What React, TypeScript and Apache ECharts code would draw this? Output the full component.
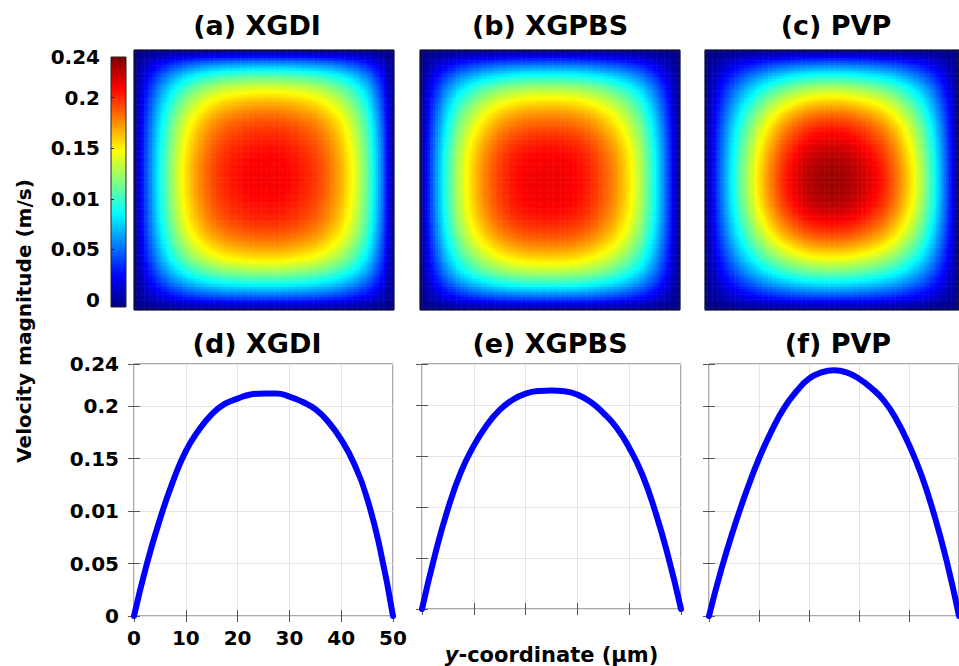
import React, { useEffect, useRef } from 'react';
import * as echarts from 'echarts';

// ---------- data ----------
const panelTitles = ['(a) XGDI', '(b) XGPBS', '(c) PVP', '(d) XGDI', '(e) XGPBS', '(f) PVP'];
const xTickLabels = ['0', '10', '20', '30', '40', '50'];
const yTickValues = [0, 0.05, 0.1, 0.15, 0.2, 0.24];
const yTickLabels = ['0', '0.05', '0.01', '0.15', '0.2', '0.24'];
const yAxisTitle = 'Velocity magnitude (m/s)';
const xAxisTitle = '{it|y}-coordinate (µm)';

// y-coordinate (µm) at which the profiles are read
const yCoord = [0, 2.5, 5, 7.5, 10, 12.5, 15, 17.5, 20, 22.5, 25, 27.5, 30, 32.5, 35, 37.5, 40, 42.5, 45, 47.5, 50];
// velocity magnitude (m/s) along the profile
const xgdiV = [0, 0.05, 0.092, 0.128, 0.157, 0.177, 0.192, 0.202, 0.207, 0.211, 0.212, 0.212, 0.209, 0.204, 0.197, 0.185, 0.168, 0.145, 0.112, 0.064, 0];
const xgpbsV = [0, 0.053, 0.098, 0.134, 0.16, 0.18, 0.195, 0.205, 0.211, 0.2135, 0.214, 0.2133, 0.21, 0.203, 0.192, 0.178, 0.158, 0.132, 0.096, 0.052, 0];
const pvpV = [0, 0.045, 0.084, 0.119, 0.15, 0.176, 0.198, 0.214, 0.226, 0.232, 0.234, 0.232, 0.226, 0.217, 0.205, 0.187, 0.163, 0.134, 0.097, 0.053, 0];

const profiles = [xgdiV, xgpbsV, pvpV];

const jetColors = ['#000080', '#0000ff', '#0080ff', '#00ffff', '#80ff80', '#ffff00', '#ff8000', '#ff0000', '#800000'];

// ---------- helpers ----------
const N = 100; // heatmap cells per side
const FONT = 'DejaVu Sans';

function sampleProfile(ys: number[], vs: number[], x: number) {
  for (let i = 0; i < ys.length - 1; i++) {
    if (x >= ys[i] && x <= ys[i + 1]) {
      const t = (x - ys[i]) / (ys[i + 1] - ys[i]);
      return vs[i] + t * (vs[i + 1] - vs[i]);
    }
  }
  return 0;
}

// cross-section table for the heatmap, built from the profile
function buildField(vs: number[]) {
  const prof: number[] = [];
  for (let k = 0; k < N; k++) prof.push(sampleProfile(yCoord, vs, ((k + 0.5) * 50) / N));
  const pmax = Math.max(...vs);
  const data: number[][] = [];
  for (let i = 0; i < N; i++) for (let j = 0; j < N; j++) data.push([i, j, (prof[i] * prof[j]) / pmax]);
  return data;
}

const yLabelFmt = (v: number) => {
  const i = yTickValues.findIndex((t) => Math.abs(t - v) < 1e-6);
  return i >= 0 ? yTickLabels[i] : '';
};
const xLabelFmt = (v: number) => xTickLabels[Math.round(v / 10)] ?? '';

export default function App() {
  const ref = useRef<HTMLDivElement>(null);

  useEffect(() => {
    if (!ref.current) return;
    const chart = echarts.init(ref.current, undefined, { renderer: 'svg' });

    const heatRects = [
      { left: 134, top: 50, width: 260, height: 260 },
      { left: 420, top: 50, width: 260, height: 260 },
      { left: 705, top: 50, width: 260, height: 260 },
    ];
    const lineRects = [
      { left: 134, top: 364, width: 259, height: 252 },
      { left: 422, top: 364, width: 259, height: 252 },
      { left: 709, top: 364, width: 259, height: 252 },
    ];
    const titleCenters = [
      [257, 25], [550, 25], [836, 25],
      [257, 343], [550, 343], [838, 343],
    ];

    const cats = Array.from({ length: N }, (_, i) => String(i));

    const grid: any[] = [];
    const xAxis: any[] = [];
    const yAxis: any[] = [];
    const series: any[] = [];

    heatRects.forEach((r, k) => {
      grid.push({ ...r, show: true, borderColor: '#1a1a1a', borderWidth: 1, backgroundColor: 'transparent', z: 10 });
      xAxis.push({ type: 'category', gridIndex: k, data: cats, show: false });
      yAxis.push({ type: 'category', gridIndex: k, data: cats, show: false });
      series.push({
        type: 'heatmap',
        xAxisIndex: k,
        yAxisIndex: k,
        data: buildField(profiles[k]),
        progressive: 0,
        emphasis: { disabled: true },
        silent: true,
      });
    });

    const tickStyle = { show: true, inside: true, length: 6, lineStyle: { color: '#555', width: 1 } };
    const labelStyle = { color: '#000', fontFamily: FONT, fontWeight: 'bold', fontSize: 20 };

    lineRects.forEach((r) => {
      grid.push({ ...r, show: true, borderColor: '#555', borderWidth: 1, backgroundColor: 'transparent' });
    });
    // bottom x axes
    lineRects.forEach((r, k) => {
      const g = 3 + k;
      xAxis.push({
        type: 'value', gridIndex: g, position: 'bottom', min: 0, max: 50, interval: 10,
        axisLine: { show: false }, axisTick: tickStyle,
        axisLabel: { show: k === 0, margin: 12, formatter: xLabelFmt, ...labelStyle },
        splitLine: { show: true, lineStyle: { color: '#e4e4e4', width: 1 } },
        ...(k === 1
          ? {
              name: xAxisTitle, nameLocation: 'middle', nameGap: 35,
              nameTextStyle: {
                color: '#000', fontFamily: FONT, fontWeight: 'bold', fontSize: 21,
                rich: { it: { fontStyle: 'italic', fontWeight: 'bold', fontFamily: FONT, fontSize: 21, color: '#000' } },
              },
            }
          : {}),
      });
    });
    // left y axes
    lineRects.forEach((r, k) => {
      const g = 3 + k;
      yAxis.push({
        type: 'value', gridIndex: g, position: 'left', min: 0, max: 0.24, interval: 0.05,
        axisLine: { show: false }, axisTick: tickStyle,
        axisLabel: { show: k === 0, margin: 15, formatter: yLabelFmt, showMaxLabel: true, showMinLabel: true, ...labelStyle },
        splitLine: { show: true, lineStyle: { color: '#e4e4e4', width: 1 } },
      });
    });
    // top x axes & right y axes (tick marks only)
    lineRects.forEach((r, k) => {
      const g = 3 + k;
      xAxis.push({
        type: 'value', gridIndex: g, position: 'top', min: 0, max: 50, interval: 10,
        axisLine: { show: false }, axisTick: tickStyle, axisLabel: { show: false }, splitLine: { show: false },
      });
      yAxis.push({
        type: 'value', gridIndex: g, position: 'right', min: 0, max: 0.24, interval: 0.05,
        axisLine: { show: false }, axisTick: tickStyle, axisLabel: { show: false }, splitLine: { show: false },
      });
    });
    // line series
    profiles.forEach((vs, k) => {
      series.push({
        type: 'line',
        xAxisIndex: 3 + k,
        yAxisIndex: 3 + k,
        data: yCoord.map((y, i) => [y, vs[i]]),
        smooth: true,
        showSymbol: false,
        symbol: 'none',
        lineStyle: { color: '#0000ff', width: 6, cap: 'round' },
        silent: true,
      });
    });

    // colorbar label axis
    grid.push({ left: 111, top: 57, width: 15, height: 243, show: false });
    xAxis.push({ type: 'value', gridIndex: 6, show: false, min: 0, max: 1 });
    yAxis.push({
      type: 'value', gridIndex: 6, position: 'left', min: 0, max: 0.24, interval: 0.05,
      axisLine: { show: false },
      axisTick: { show: true, inside: true, length: 3, lineStyle: { color: '#222' }, customValues: [0.05, 0.1, 0.15, 0.2] },
      axisLabel: { show: true, margin: 11, formatter: yLabelFmt, showMaxLabel: true, showMinLabel: true, ...labelStyle },
      splitLine: { show: false },
    });

    const titles = panelTitles.map((t, i) => ({
      text: t,
      left: titleCenters[i][0],
      top: titleCenters[i][1],
      textAlign: 'center',
      textVerticalAlign: 'middle',
      padding: 0,
      textStyle: { color: '#000', fontFamily: FONT, fontWeight: 'bold', fontSize: 27 },
    }));

    const option: any = {
      animation: false,
      backgroundColor: '#fff',
      title: titles,
      grid,
      xAxis,
      yAxis,
      visualMap: {
        type: 'continuous',
        show: false,
        min: 0,
        max: 0.24,
        seriesIndex: [0, 1, 2],
        dimension: 2,
        inRange: { color: jetColors },
      },
      graphic: [
        {
          type: 'rect',
          shape: { x: 111, y: 57, width: 15, height: 250 },
          style: {
            fill: new echarts.graphic.LinearGradient(0, 1, 0, 0,
              jetColors.map((c, i) => ({ offset: i / (jetColors.length - 1), color: c }))),
            stroke: '#222',
            lineWidth: 1,
          },
          z: 0,
        },
        {
          type: 'text',
          x: 24,
          y: 321,
          rotation: Math.PI / 2,
          style: {
            text: yAxisTitle,
            fill: '#000',
            fontFamily: FONT,
            fontWeight: 'bold',
            fontSize: 20,
            align: 'center',
            verticalAlign: 'middle',
          },
        },
      ],
      series,
    };

    chart.setOption(option);
    return () => chart.dispose();
  }, []);

  return (
    <div
      ref={ref}
      style={{ position: 'fixed', left: 0, top: 0, width: 959, height: 666, background: '#fff' }}
    />
  );
}
